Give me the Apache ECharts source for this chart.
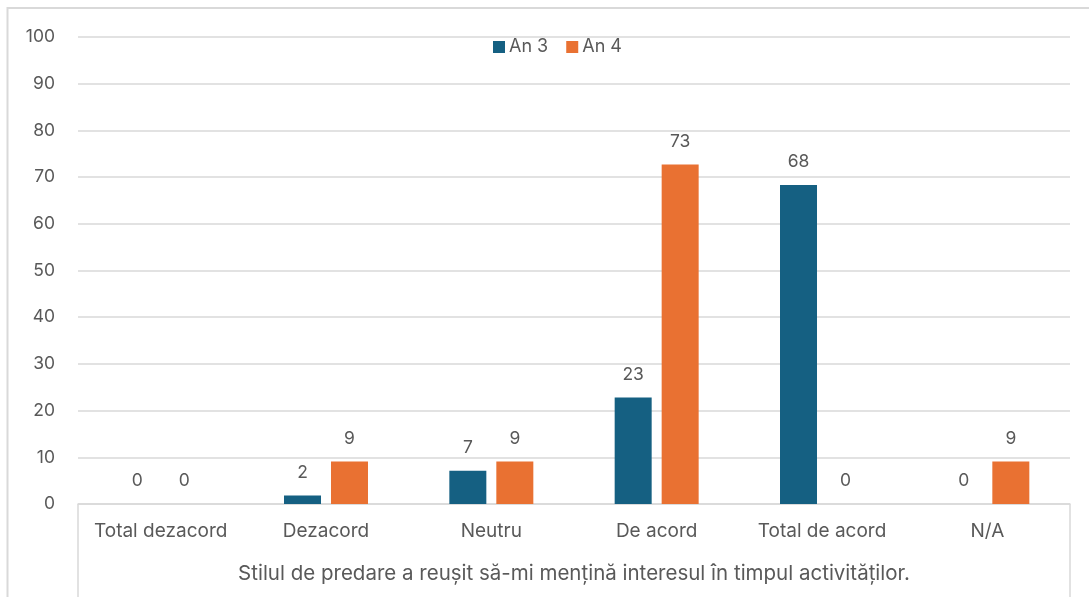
<!DOCTYPE html>
<html>
<head>
<meta charset="utf-8">
<script src="https://cdn.jsdelivr.net/npm/echarts@6/dist/echarts.min.js"></script>
<style>
html,body{margin:0;padding:0;background:#fff;}
#chart{width:1089px;height:597px;}
</style>
</head>
<body>
<div id="chart"></div>
<script>
const categories = ['Total dezacord', 'Dezacord', 'Neutru', 'De acord', 'Total de acord', 'N/A'];
const groupLabel = ['Stilul de predare a reușit să-mi mențină interesul în timpul activităților.'];
const seriesNames = ['An 3', 'An 4'];
const an3 = [0, 1.8, 7.1, 22.8, 68.3, 0];
const an4 = [0, 9.1, 9.1, 72.7, 0, 9.1];
const yMin = 0, yMax = 100, yStep = 10;

const textColor = '#595959';
const font = 'Inter, "Noto Sans", sans-serif';
const chart = echarts.init(document.getElementById('chart'), null, {renderer: 'canvas'});

const labelOpt = {
  show: true, position: 'top', distance: 14,
  color: textColor, fontSize: 17.5, fontFamily: font,
  formatter: p => Math.round(p.value)
};

chart.setOption({
  animation: false,
  backgroundColor: '#fff',
  textStyle: {fontFamily: font},
  graphic: [{
    type: 'rect', silent: true, z: -1,
    shape: {x: 7.5, y: 8, width: 1100, height: 620},
    style: {fill: 'none', stroke: '#d9d9d9', lineWidth: 2}
  }],
  legend: {
    data: seriesNames,
    left: 488, top: 33,
    itemWidth: 12, itemHeight: 12, itemGap: 18,
    icon: 'rect',
    textStyle: {color: textColor, fontSize: 18, fontFamily: font, padding: [0, 0, 0, -1]}
  },
  grid: {left: 78, right: 19, top: 37, bottom: 93},
  xAxis: [{
    type: 'category', data: categories, position: 'bottom',
    axisLine: {show: true, lineStyle: {color: '#d9d9d9', width: 1.5}},
    axisTick: {show: false},
    axisLabel: {color: textColor, fontSize: 19, fontFamily: font, margin: 18, interval: 0}
  }, {
    type: 'category', data: groupLabel, position: 'bottom',
    axisLine: {show: false},
    axisTick: {show: true, inside: false, length: 100, lineStyle: {color: '#d9d9d9', width: 1.5}},
    axisLabel: {color: textColor, fontSize: 20.5, fontFamily: font, margin: 59}
  }],
  yAxis: {
    type: 'value', min: yMin, max: yMax, interval: yStep,
    axisLine: {show: false}, axisTick: {show: false},
    splitLine: {lineStyle: {color: '#d9d9d9', width: 1.5}},
    axisLabel: {color: textColor, fontSize: 17.5, fontFamily: font, margin: 23}
  },
  series: [{
    name: seriesNames[0], type: 'bar', data: an3,
    barWidth: 37, barGap: '27%',
    itemStyle: {color: '#156082'},
    label: labelOpt
  }, {
    name: seriesNames[1], type: 'bar', data: an4,
    barWidth: 37,
    itemStyle: {color: '#E97132'},
    label: labelOpt
  }]
});
</script>
</body>
</html>
